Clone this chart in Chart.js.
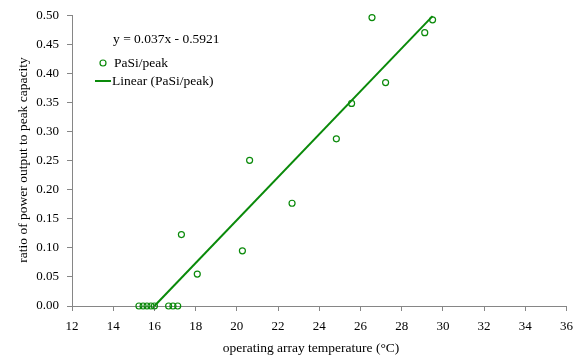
<!DOCTYPE html>
<html>
<head>
<meta charset="utf-8">
<script src="https://cdn.jsdelivr.net/npm/chart.js@4/dist/chart.umd.min.js"></script>
<style>
html,body{margin:0;padding:0;background:#fff;}
#wrap{width:581px;height:356px;position:relative;}
</style>
</head>
<body>
<div id="wrap"><canvas id="c" width="581" height="356"></canvas></div>
<script>
const tempC = [15.25, 15.45, 15.64, 15.83, 16.0, 16.69, 16.9, 17.13, 17.31, 18.08, 20.27, 20.62, 22.68, 24.83, 25.57, 26.56, 27.22, 29.12, 29.5];
const ratio = [0, 0, 0, 0, 0, 0, 0, 0, 0.123, 0.055, 0.095, 0.251, 0.177, 0.288, 0.349, 0.497, 0.385, 0.471, 0.493];
const trendX = [16.0, 29.5];
const trendY = [0.0, 0.4994];
const equationText = 'y = 0.037x - 0.5921';
const seriesName = 'PaSi/peak';
const trendName = 'Linear (PaSi/peak)';
const xTitle = 'operating array temperature (°C)';
const yTitle = 'ratio of power output to peak capacity';
const xTicks = [12,14,16,18,20,22,24,26,28,30,32,34,36];
const yTicks = [0,0.05,0.1,0.15,0.2,0.25,0.3,0.35,0.4,0.45,0.5];

const green = '#0a8a0a';
const axisCol = '#868686';
const fontFam = '"Liberation Serif", "Times New Roman", serif';

const legendPlugin = {
  id: 'customLegend',
  afterDraw(chart) {
    const ctx = chart.ctx;
    ctx.save();
    ctx.fillStyle = '#000';
    ctx.font = '13.5px ' + fontFam;
    ctx.textBaseline = 'middle';
    ctx.textAlign = 'left';
    ctx.fillText(equationText, 113, 39);
    ctx.strokeStyle = green;
    ctx.lineWidth = 1.2;
    ctx.beginPath();
    ctx.arc(103, 63, 3, 0, Math.PI * 2);
    ctx.stroke();
    ctx.fillText(seriesName, 114, 63);
    ctx.lineWidth = 2;
    ctx.beginPath();
    ctx.moveTo(95, 81);
    ctx.lineTo(111, 81);
    ctx.stroke();
    ctx.fillText(trendName, 112, 81);
    // axis titles
    ctx.textAlign = 'center';
    ctx.fillText(xTitle, 311, 348);
    ctx.translate(23, 160);
    ctx.rotate(-Math.PI / 2);
    ctx.fillText(yTitle, 0, 0);
    ctx.restore();
  }
};

new Chart(document.getElementById('c'), {
  type: 'scatter',
  data: {
    datasets: [
      {
        label: trendName,
        data: trendX.map((x, i) => ({x: x, y: trendY[i]})),
        showLine: true,
        borderColor: green,
        borderWidth: 2,
        pointRadius: 0,
        fill: false,
        order: 2
      },
      {
        label: seriesName,
        data: tempC.map((x, i) => ({x: x, y: ratio[i]})),
        pointRadius: 3,
        pointBorderWidth: 1.2,
        pointBorderColor: green,
        pointBackgroundColor: 'rgba(255,255,255,0)',
        showLine: false,
        order: 1
      }
    ]
  },
  options: {
    responsive: false,
    animation: false,
    clip: false,
    layout: {padding: {top: 14, right: 14, left: 0, bottom: 0}},
    plugins: {legend: {display: false}, tooltip: {enabled: false}},
    scales: {
      x: {
        type: 'linear',
        min: 12, max: 36,
        afterFit(s) { s.height = 50; },
        afterBuildTicks(s) { s.ticks = xTicks.map(v => ({value: v})); },
        ticks: {color: '#000', font: {family: fontFam, size: 13}, padding: 8, maxRotation: 0,
          callback: v => String(v)},
        grid: {drawOnChartArea: false, drawTicks: true, tickLength: 5, color: axisCol},
        border: {color: axisCol, width: 1},
        title: {display: false}
      },
      y: {
        type: 'linear',
        min: 0, max: 0.5,
        afterFit(s) { s.width = 72; },
        afterBuildTicks(s) { s.ticks = yTicks.map(v => ({value: v})); },
        ticks: {color: '#000', font: {family: fontFam, size: 13}, padding: 8,
          callback: v => Number(v).toFixed(2)},
        grid: {drawOnChartArea: false, drawTicks: true, tickLength: 5, color: axisCol},
        border: {color: axisCol, width: 1},
        title: {display: false}
      }
    }
  },
  plugins: [legendPlugin]
});
</script>
</body>
</html>
